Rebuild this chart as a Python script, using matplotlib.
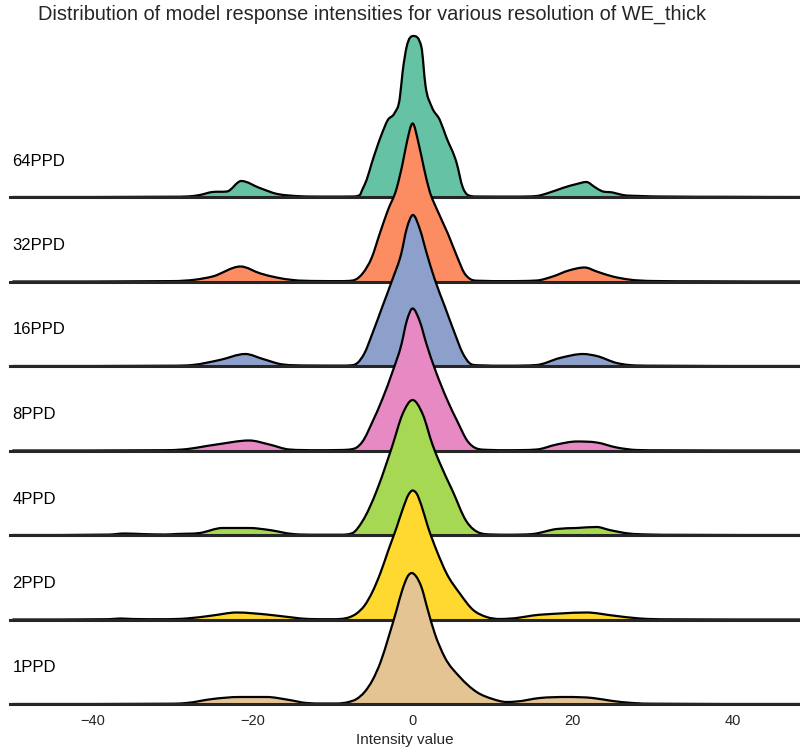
import numpy as np
import matplotlib
matplotlib.use("Agg")
import matplotlib.pyplot as plt
from matplotlib.path import Path
from matplotlib.patches import PathPatch

# ── Data: KDE of response intensity per resolution (density x 1e-3) ──────────
labels = ["64PPD", "32PPD", "16PPD", "8PPD", "4PPD", "2PPD", "1PPD"]
colors = ["#66c2a5", "#fc8d62", "#8da0cb", "#e78ac3", "#a6d854", "#ffd92f", "#e5c494"]

x_64 = [-50, -30, -28, -26.6, -25, -23.2, -21.4, -19.1, -16.9, -15.4, -13, -10,
        -7.5, -6.6, -6.25, -5.75, -5.1, -3.9, -3.1, -2.25, -1.6, -1.25, -0.75, 0.1,
        1.1, 1.6, 2.4, 3.4, 4.2, 5.5, 6.25, 6.9, 8, 13, 15.5, 16.75, 18.75, 20.5, 21.7,
        22.75, 23.6, 25, 26.25, 28.4, 31, 40, 48.5]
d_64 = [0, 0.3, 0.6, 2, 5, 5.5, 16, 9, 3, 1.5, 0.5, 0.4,
        0.5, 2, 8, 17, 34, 62, 77, 84, 99, 125, 150, 161,
        150, 112, 90, 77, 60, 34, 10, 2, 0.5, 0.4, 1, 3.5, 9, 13, 15,
        10, 6, 4.5, 2, 1, 0.5, 0.2, 0]

x_32 = [-50, -30, -27, -25, -21.5, -19, -17, -15, -12, -9, -7.5, -6.9, -6.25, -5.1,
        -4.1, -3.1, -2, -1.25, -0.75, 0, 0.75, 1.4, 2.1, 3.1, 4.4, 5.6, 6.5, 7.1, 8, 12,
        15.5, 17.5, 19.5, 21.5, 23, 25, 27, 30, 36, 48.5]
d_32 = [0, 0.4, 2, 5, 15, 8, 4, 1.5, 0.5, 0.4, 1, 3, 8, 24,
        48, 71, 93, 118, 138, 158, 138, 114, 91, 71, 48, 24, 8, 3, 0.8, 0.4,
        1, 5, 11, 14, 10, 5, 2, 0.5, 0.2, 0]

x_16 = [-50, -30, -27.5, -24.1, -20.9, -18.7, -16.2, -13, -9, -7.5, -6.9, -6, -5,
        -3.75, -2.5, -1.4, -0.75, 0.05, 0.9, 1.75, 2.75, 4, 5.25, 6.25, 7.1, 8, 12, 15.5,
        18.4, 21.3, 23, 25.5, 27, 30, 48.5]
d_16 = [0, 0.3, 1, 6, 12, 7, 1.5, 0.5, 0.4, 0.8, 3, 13, 33,
        60, 87, 113, 137, 151, 137, 113, 87, 60, 33, 13, 3, 0.8, 0.3, 1,
        8, 12, 10, 3, 1, 0.3, 0]

x_8 = [-50, -31, -28.75, -24.5, -20.4, -17.9, -15.4, -12, -9, -7.25, -6.25, -5,
       -3.75, -2.5, -1.4, -0.75, 0, 0.9, 1.75, 2.9, 4.25, 5.6, 6.9, 8, 9.5, 12, 15.5, 18,
       20.5, 23, 25.5, 28, 31, 48.5]
d_8 = [0, 0.3, 1, 6, 10, 6, 1, 0.3, 0.5, 2, 9, 29,
       52, 79, 106, 129, 142, 129, 106, 79, 52, 29, 9, 2, 0.6, 0.3, 1, 6,
       9, 8, 3, 0.5, 0.2, 0]

x_4 = [-50, -38, -36, -34, -31, -29.5, -26.6, -23.75, -20.4, -17.9, -15, -12, -9, -7.5,
       -6.25, -4.5, -3.25, -2.5, -1.25, 0, 1.25, 2.5, 3.4, 5, 6.7, 8.4, 10, 12, 15, 18,
       20.5, 23, 24.6, 27, 29.5, 33, 48.5]
d_4 = [0, 0.4, 1.5, 1, 0.5, 1, 2, 7, 7, 5, 1, 0.3, 0.3, 2,
       14, 44, 72, 90, 121, 135, 121, 90, 72, 44, 14, 2, 0.5, 0.3, 1, 6,
       7, 8, 5, 1.5, 0.5, 0.2, 0]

x_2 = [-50, -38, -36.5, -35, -31, -28.25, -25, -22, -18.25, -15, -13, -10, -8, -7,
       -6, -5, -4, -3, -2, -1.25, -0.5, 0, 0.5, 1.1, 1.9, 3, 4.25, 5.9, 7.5, 9.25, 10.9,
       13, 15, 18.4, 21.75, 25, 28.4, 31.75, 48.5]
d_2 = [0, 0.3, 1, 0.5, 0.3, 1, 4, 7, 5, 2, 0.5, 0.3, 2, 6,
       14, 28, 47, 70, 92, 110, 125, 129, 126, 114, 93, 69, 46, 26, 10, 2.5, 0.5,
       1.5, 4, 6, 7, 4, 1, 0.2, 0]

x_1 = [-50, -30, -28.25, -25, -21.6, -18.25, -15.4, -13.25, -11, -9.5, -8, -7,
       -6, -5, -4, -3, -2, -1.25, -0.5, -0.1, 0.4, 1.1, 1.9, 2.75, 4, 5.9, 8, 10, 11.75,
       13, 15.9, 19.25, 22.5, 25, 27.5, 30, 48.5]
d_1 = [0, 0.3, 1, 5, 7, 7, 4, 1, 0.5, 0.5, 2, 5,
       12, 24, 42, 67, 94, 115, 129, 131, 128, 117, 94, 71, 47, 27, 12, 5, 2,
       2.5, 6, 7, 6, 3, 1, 0.3, 0]

xs = [x_64, x_32, x_16, x_8, x_4, x_2, x_1]
ds = [d_64, d_32, d_16, d_8, d_4, d_2, d_1]

ROW_STEP = 84.5


def knot_slopes(x, y):
    """Three-point slopes, limited so the curve stays monotone between knots."""
    h = np.diff(x)
    d = np.diff(y) / h
    m = np.zeros(len(x))
    for k in range(1, len(x) - 1):
        if d[k - 1] * d[k] <= 0:
            continue
        s = (h[k - 1] * d[k] + h[k] * d[k - 1]) / (h[k - 1] + h[k])
        lim = 3 * min(abs(d[k - 1]), abs(d[k]))
        m[k] = np.sign(s) * min(abs(s), lim)
    return m


def curve_verts(x, y):
    x = np.asarray(x, float)
    y = np.asarray(y, float)
    m = knot_slopes(x, y)
    verts = [(x[0], y[0])]
    codes = [Path.MOVETO]
    for i in range(len(x) - 1):
        h = x[i + 1] - x[i]
        verts += [(x[i] + h / 3, y[i] + m[i] * h / 3),
                  (x[i + 1] - h / 3, y[i + 1] - m[i + 1] * h / 3),
                  (x[i + 1], y[i + 1])]
        codes += [Path.CURVE4] * 3
    return verts, codes


plt.rcParams["font.family"] = ["Liberation Sans", "DejaVu Sans"]

fig = plt.figure(figsize=(8.0, 7.47), dpi=100)
ax = fig.add_axes([10 / 800, 43 / 747, 790 / 800, 684 / 747])
ax.set_xlim(-50.3, 48.4)
ax.set_ylim(0, 684)

n = len(labels)
for i, (lab, col, x, d) in enumerate(zip(labels, colors, xs, ds)):
    base = (n - 1 - i) * ROW_STEP
    y = np.asarray(d, float) + base
    verts, codes = curve_verts(x, y)
    fill_verts = [(x[0], base)] + verts + [(x[-1], base), (x[0], base)]
    fill_codes = [Path.MOVETO, Path.LINETO] + codes[1:] + [Path.LINETO, Path.CLOSEPOLY]
    z = 2 + i * 3
    ax.add_patch(PathPatch(Path(fill_verts, fill_codes), facecolor=col,
                           edgecolor="none", zorder=z))
    ax.add_patch(PathPatch(Path(verts, codes), facecolor="none", edgecolor="black",
                           linewidth=1.6, zorder=z + 1, clip_on=False))
    ax.axhline(base, color="#262626", linewidth=2.2, zorder=z + 2, clip_on=False)
    ax.text(0.003, base + 36, lab, fontsize=12, ha="left", va="center",
            transform=ax.get_yaxis_transform(), zorder=30)

ax.set_xticks([-40, -20, 0, 20, 40])
ax.set_yticks([])
ax.tick_params(axis="x", length=0, pad=7, labelsize=10.5, colors="#262626")
for s in ax.spines.values():
    s.set_visible(False)
ax.set_xlabel("Intensity value", fontsize=11, color="#262626", labelpad=4)

fig.text(372 / 800, 1 - 14 / 747,
         "Distribution of model response intensities for various resolution of WE_thick",
         ha="center", va="center", fontsize=14.4, color="#262626")

fig.savefig("out.png", dpi=100)
